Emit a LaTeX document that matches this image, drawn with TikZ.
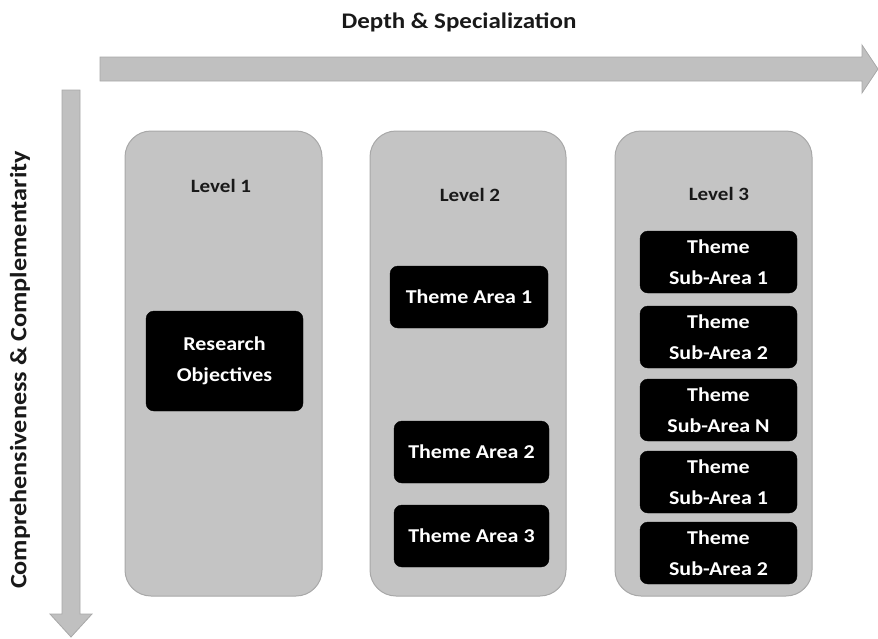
\documentclass[tikz,border=0pt]{standalone}
\usepackage{fontspec}
\setmainfont{Carlito}[FakeStretch=1.12]
\definecolor{panelgray}{HTML}{C4C4C4}
\definecolor{arrowgray}{HTML}{C0C0C0}
\definecolor{edgegray}{HTML}{A8A8A8}
\begin{document}
\begin{tikzpicture}[x=1pt,y=-1pt,
  panel/.style={draw=edgegray,line width=1pt,fill=panelgray,rounded corners=26pt},
  blackbox/.style={draw=black,fill=black,rounded corners=8pt,text=white,font=\bfseries\fontsize{19.6}{31}\selectfont,align=center,inner sep=0pt},
  leveltxt/.style={font=\bfseries\fontsize{18.8}{23}\selectfont,text=black!90},
  axistxt/.style={font=\bfseries\fontsize{22.3}{27}\selectfont,text=black!90},
  bigarrow/.style={draw=edgegray,line width=0.8pt,fill=arrowgray}]
\useasboundingbox (0,0) rectangle (878,638);
% horizontal arrow
\draw[bigarrow] (100,57) -- (862,57) -- (862,45) -- (878,69) -- (862,93) -- (862,81) -- (100,81) -- cycle;
\node[axistxt] (htitle) at (459,22) {Depth \& Specialization};
% vertical arrow
\draw[bigarrow] (62,90) -- (80,90) -- (80,614) -- (92,614) -- (71,637) -- (50,614) -- (62,614) -- cycle;
\node[axistxt,rotate=90,font=\bfseries\fontsize{23.4}{27}\selectfont] (vtitle) at (20,370) {Comprehensiveness \& Complementarity};
% panels
\draw[panel] (125,131) rectangle (322,596);
\draw[panel] (370,131) rectangle (566,596);
\draw[panel] (615,131) rectangle (812,596);
\node[leveltxt] (l1) at (221,186) {Level 1};
\node[leveltxt] (l2) at (470,195) {Level 2};
\node[leveltxt] (l3) at (719,194) {Level 3};
% boxes
\node[blackbox,minimum width=157pt,minimum height=100pt] (ro) at (224.5,361) {Research\\Objectives};
\node[blackbox,minimum width=158pt,minimum height=62pt] (ta1) at (469,297) {Theme Area 1};
\node[blackbox,minimum width=155pt,minimum height=62pt] (ta2) at (471.5,452) {Theme Area 2};
\node[blackbox,minimum width=155pt,minimum height=62pt] (ta3) at (471.5,536) {Theme Area 3};
\node[blackbox,minimum width=157pt,minimum height=62pt] (s1) at (718.5,262) {Theme\\Sub-Area 1};
\node[blackbox,minimum width=157pt,minimum height=62pt] (s2) at (718.5,337) {Theme\\Sub-Area 2};
\node[blackbox,minimum width=157pt,minimum height=62pt] (sn) at (718.5,410) {Theme\\Sub-Area N};
\node[blackbox,minimum width=157pt,minimum height=62pt] (s1b) at (718.5,482) {Theme\\Sub-Area 1};
\node[blackbox,minimum width=157pt,minimum height=62pt] (s2b) at (718.5,553) {Theme\\Sub-Area 2};
\end{tikzpicture}
\end{document}
